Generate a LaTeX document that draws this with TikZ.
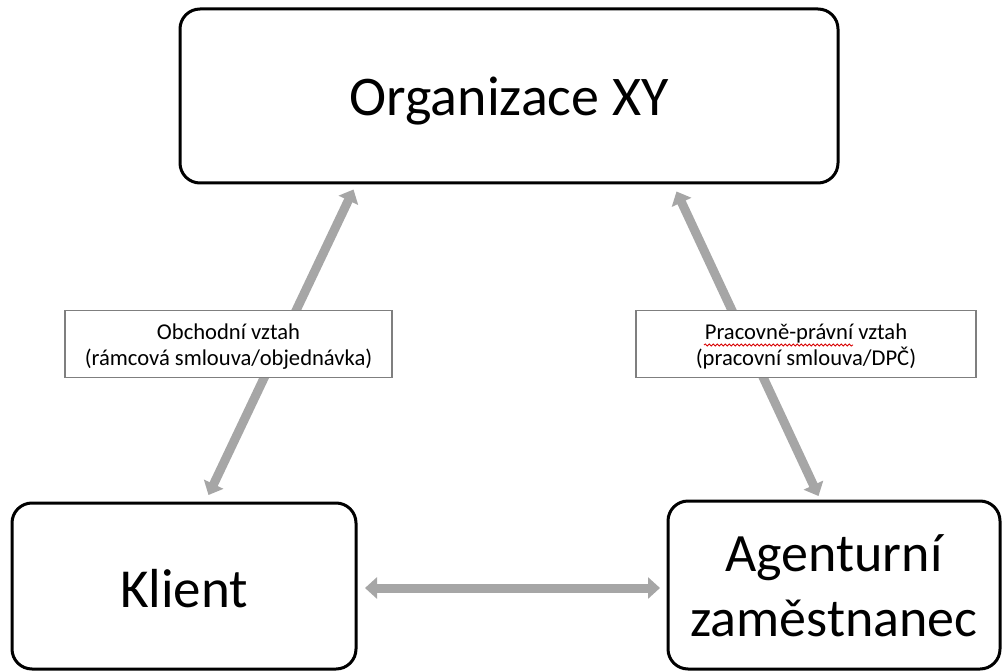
\documentclass[tikz,border=0pt]{standalone}
\usepackage{fontspec}
\setmainfont{Carlito}
\usetikzlibrary{arrows.meta,decorations.pathmorphing}
\definecolor{arrowgray}{HTML}{A6A6A6}
\definecolor{framegray}{HTML}{7F7F7F}
% lower a box's contents without changing its size
\newcommand\sinkby[2]{\raisebox{-#1}[\height][\depth]{#2}}
\newcommand\lines[1]{\begin{tabular}{@{}c@{}}#1\end{tabular}}
\begin{document}
\begin{tikzpicture}[x=1pt,y=-1pt,
  entity/.style={draw=black, line width=3pt, rounded corners=20pt, fill=white,
    align=center, inner sep=0pt},
  relbox/.style={draw=framegray, line width=1.8pt, fill=white, align=center,
    inner sep=0pt, font=\fontsize{22.6}{26.5}\selectfont},
  link/.style={draw=arrowgray, line width=9pt,
    {Triangle[width=21pt,length=12pt]}-{Triangle[width=21pt,length=12pt]}},
  spell/.style={draw=red!85!black, line width=0.8pt, decorate,
    decoration={snake, amplitude=1.1pt, segment length=4pt}}]
\useasboundingbox (0,0) rectangle (1003,671);

% parties
\node[entity, minimum width=658pt, minimum height=174pt,
  font=\fontsize{56}{67}\selectfont] (org) at (509,96)
  {\sinkby{5pt}{Organizace XY}};
\node[entity, minimum width=344pt, minimum height=166pt,
  font=\fontsize{55}{66}\selectfont] (klient) at (184,586)
  {\sinkby{3pt}{Klient}};
\node[entity, minimum width=332pt, minimum height=168pt,
  font=\fontsize{54}{65}\selectfont] (agent) at (834,585)
  {\sinkby{6pt}{\lines{Agenturní\\zaměstnanec}}};

% connector end points
\coordinate (lt) at ([shift={(175,5)}]org.south west);
\coordinate (lb) at ([shift={(198,-6.5)}]klient.north west);
\coordinate (rt) at ([shift={(498,7)}]org.south west);
\coordinate (rb) at ([shift={(152,-3.5)}]agent.north west);
\coordinate (hl) at ([shift={(7.5,2)}]klient.east);
\coordinate (hr) at ([shift={(-6.5,3)}]agent.west);

% relations
\draw[link] (lb) -- (lt);
\draw[link] (rb) -- (rt);
\draw[link] (hl) -- (hr);

% relation labels
\node[relbox, minimum width=327pt, minimum height=67pt] (obch) at (228.5,344)
  {\sinkby{3pt}{\lines{Obchodní vztah\\(rámcová smlouva/objednávka)}}};
\node[relbox, minimum width=340pt, minimum height=67pt] (prac) at (806,344)
  {\sinkby{3pt}{\lines{Pracovně-právní vztah\\(pracovní smlouva/DPČ)}}};

% spell-check underline
\coordinate (s1) at ([shift={(-102,1)}]prac.center);
\coordinate (s2) at ([shift={(47,1)}]prac.center);
\draw[spell] (s1) -- (s2);
\end{tikzpicture}
\end{document}
